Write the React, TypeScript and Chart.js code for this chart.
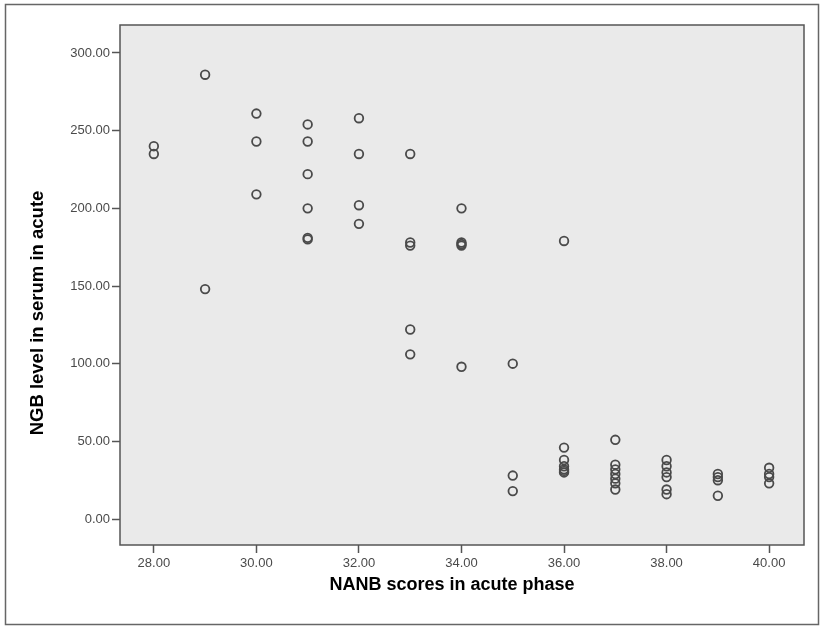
import React, { useEffect, useRef } from "react";
import { Chart, registerables } from "chart.js";

Chart.register(...registerables);

// NANB score (x) -> NGB values (y)
const scoreValues = [28, 29, 30, 31, 32, 33, 34, 35, 36, 37, 38, 39, 40];
const ngb28 = [240, 235];
const ngb29 = [286, 148];
const ngb30 = [261, 243, 209];
const ngb31 = [254, 243, 222, 200, 181, 180];
const ngb32 = [258, 235, 202, 190];
const ngb33 = [235, 178, 176, 122, 106];
const ngb34 = [200, 178, 177, 176, 98];
const ngb35 = [100, 28, 18];
const ngb36 = [179, 46, 38, 34, 32, 31, 30];
const ngb37 = [51, 35, 32, 29, 26, 23, 19];
const ngb38 = [38, 34, 30, 27, 19, 16];
const ngb39 = [29, 27, 25, 15];
const ngb40 = [33, 29, 27, 23];
const ngbByScore = [ngb28, ngb29, ngb30, ngb31, ngb32, ngb33, ngb34, ngb35, ngb36, ngb37, ngb38, ngb39, ngb40];

const xTicks = [28, 30, 32, 34, 36, 38, 40];
const yTicks = [0, 50, 100, 150, 200, 250, 300];

const xTitle = "NANB scores in acute phase";
const yTitle = "NGB level in serum in acute";

export default function App() {
  const ref = useRef<HTMLCanvasElement>(null);

  useEffect(() => {
    const points: { x: number; y: number }[] = [];
    scoreValues.forEach((s, i) => ngbByScore[i].forEach((v) => points.push({ x: s, y: v })));

    const framePlugin = {
      id: "frame",
      beforeDraw(chart: any) {
        const { ctx, chartArea } = chart;
        ctx.save();
        ctx.fillStyle = "#ffffff";
        ctx.fillRect(0, 0, chart.width, chart.height);
        ctx.fillStyle = "#eaeaea";
        ctx.fillRect(chartArea.left, chartArea.top, chartArea.right - chartArea.left, chartArea.bottom - chartArea.top);
        ctx.restore();
      },
      afterDraw(chart: any) {
        const { ctx, chartArea } = chart;
        ctx.save();
        ctx.strokeStyle = "#555555";
        ctx.lineWidth = 1.5;
        ctx.strokeRect(chartArea.left, chartArea.top, chartArea.right - chartArea.left, chartArea.bottom - chartArea.top);
        ctx.strokeStyle = "#666666";
        ctx.lineWidth = 1.5;
        ctx.strokeRect(5.5, 4.5, 813, 620);
        // axis titles
        ctx.fillStyle = "#000000";
        ctx.textAlign = "center";
        ctx.textBaseline = "alphabetic";
        ctx.font = "bold 18px 'Liberation Sans', Arial, sans-serif";
        ctx.fillText(xTitle, 452, 590);
        ctx.save();
        ctx.translate(43, 313);
        ctx.rotate(-Math.PI / 2);
        ctx.font = "bold 18.5px 'Liberation Sans', Arial, sans-serif";
        ctx.fillText(yTitle, 0, 0);
        ctx.restore();
        ctx.restore();
      },
    };

    const chart = new Chart(ref.current!, {
      type: "scatter",
      data: {
        datasets: [
          {
            data: points,
            pointRadius: 4.3,
            pointHoverRadius: 4.3,
            pointBackgroundColor: "rgba(0,0,0,0)",
            pointBorderColor: "#4a4a4a",
            pointBorderWidth: 1.8,
          },
        ],
      },
      options: {
        animation: false,
        responsive: false,
        events: [],
        layout: { padding: { left: 0, top: 25, right: 19, bottom: 21 } },
        plugins: { legend: { display: false }, tooltip: { enabled: false } },
        scales: {
          x: {
            type: "linear",
            min: 27.34,
            max: 40.68,
            afterBuildTicks: (s: any) => {
              s.ticks = xTicks.map((v) => ({ value: v }));
            },
            afterFit: (s: any) => {
              s.height = 60;
            },
            grid: { drawOnChartArea: false, drawTicks: true, tickLength: 8, color: "#555555", tickWidth: 1.5 },
            border: { display: false },
            ticks: {
              padding: 3,
              color: "#4a4a4a",
              font: { family: "'Liberation Sans', Arial", size: 13 },
              callback: (v: any) => Number(v).toFixed(2),
              maxRotation: 0,
            },
            title: { display: false },
          },
          y: {
            type: "linear",
            min: -16.7,
            max: 318,
            afterBuildTicks: (s: any) => {
              s.ticks = yTicks.map((v) => ({ value: v }));
            },
            afterFit: (s: any) => {
              s.width = 120;
            },
            grid: { drawOnChartArea: false, drawTicks: true, tickLength: 8, color: "#555555", tickWidth: 1.5 },
            border: { display: false },
            ticks: {
              padding: 2,
              color: "#4a4a4a",
              font: { family: "'Liberation Sans', Arial", size: 13 },
              callback: (v: any) => Number(v).toFixed(2),
            },
            title: { display: false },
          },
        },
      },
      plugins: [framePlugin],
    });
    return () => chart.destroy();
  }, []);

  return (
    <div style={{ position: "absolute", left: 0, top: 0, width: 823, height: 626 }}>
      <canvas ref={ref} width={823} height={626} style={{ width: 823, height: 626, display: "block" }} />
    </div>
  );
}
